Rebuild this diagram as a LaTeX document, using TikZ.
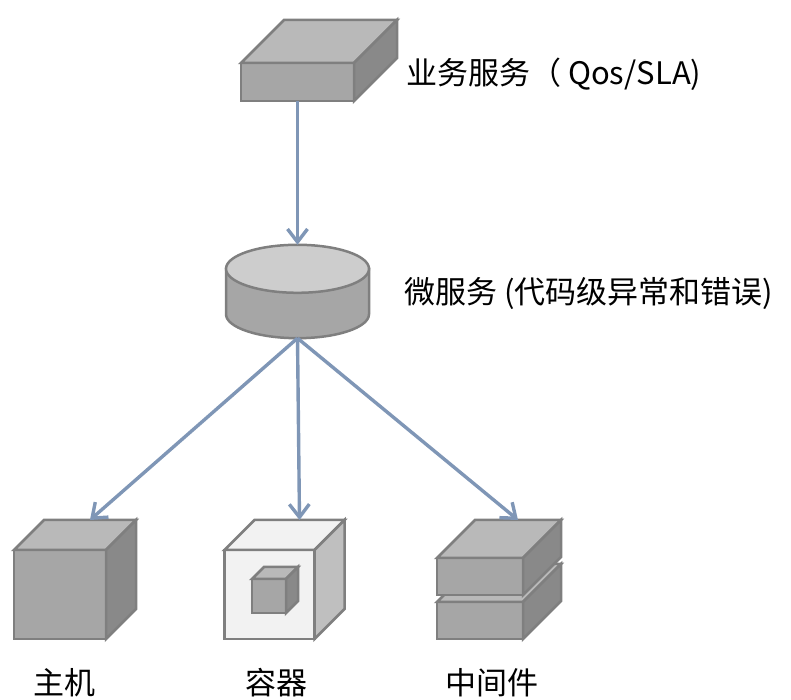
\documentclass[tikz,border=0pt]{standalone}
\usepackage{tikz}
\usetikzlibrary{arrows.meta}
\usepackage{fontspec}
\setmainfont{Noto Sans CJK SC}
\usepackage{xcolor}
\definecolor{edgegray}{RGB}{127,127,127}
\definecolor{frontgray}{RGB}{166,166,166}
\definecolor{topgray}{RGB}{185,185,185}
\definecolor{sidegray}{RGB}{137,137,137}
\definecolor{lightface}{RGB}{242,242,242}
\definecolor{lightside}{RGB}{191,191,191}
\definecolor{capgray}{RGB}{205,205,205}
\definecolor{linkblue}{RGB}{127,150,182}
% top and right faces of a box whose front face is the node #1
\newcommand{\boxfaces}[4]{%
	\filldraw[facestyle,fill=#3] (#1.north west) -- ++(#2,#2) -- ([shift={(#2,#2)}]#1.north east) -- (#1.north east) -- cycle;
	\filldraw[facestyle,fill=#4] (#1.north east) -- ++(#2,#2) -- ([shift={(#2,#2)}]#1.south east) -- (#1.south east) -- cycle;}

\begin{document}
\begin{tikzpicture}[x=1pt,y=1pt]
		\tikzset{facestyle/.style={draw=edgegray,line width=2.5pt},
		face/.style={facestyle,fill=frontgray,inner sep=0pt,outer sep=0pt},
		link/.style={draw=linkblue,line width=3.4pt,-{Straight Barb[length=13pt,width=20pt]}},
		caption/.style={inner sep=0pt,font=\fontsize{31}{36}\selectfont}
	}
	\useasboundingbox (0,0) rectangle (791,700);

    % business service
    \node [face,minimum width=113pt,minimum height=38pt] (service) at (297.5,618) {};
    \boxfaces{service}{43}{topgray}{sidegray}
    \node [caption,anchor=west] (servicetext) at (406,626) {业务服务（ Qos/SLA)};

    % micro service
    \node [inner sep=0pt,minimum width=143pt,minimum height=93pt] (micro) at (297.5,408.5) {};
    \coordinate (captop) at ([yshift=-24pt]micro.north);
    \coordinate (capbot) at ([yshift=24pt]micro.south);
    \filldraw [facestyle,fill=frontgray] ([xshift=-71.5pt]captop) -- ([xshift=-71.5pt]capbot)
    	arc [start angle=180,end angle=360,x radius=71.5pt,y radius=24pt] -- ([xshift=71.5pt]captop) -- cycle;
    \filldraw [facestyle,fill=capgray] (captop) ellipse [x radius=71.5pt,y radius=24pt];
    \node [caption,anchor=west] (microtext) at (404,406) {微服务 (代码级异常和错误)};

    % host
    \node [face,minimum width=92pt,minimum height=89pt] (host) at (60,105.5) {};
    \boxfaces{host}{30}{topgray}{sidegray}
    \coordinate (hosttop) at ([shift={(30,30)}]host.north);
    \node [caption] (hosttext) at (64,17) {主机};

    % container
    \node [face,fill=lightface,minimum width=90pt,minimum height=89pt] (container) at (269.5,105.5) {};
    \boxfaces{container}{30}{lightface}{lightside}
    \node [face,minimum width=34pt,minimum height=34pt] (inner) at (269,104) {};
    \boxfaces{inner}{12}{topgray}{sidegray}
    \coordinate (containertop) at ([shift={(30,30)}]container.north);
    \node [caption] (containertext) at (276,17) {容器};

    % middleware
    \node [face,minimum width=86pt,minimum height=37pt] (midlow) at (480,79.5) {};
    \boxfaces{midlow}{38}{topgray}{sidegray}
    \node [face,minimum width=86pt,minimum height=37pt] (midup) at (480,123.5) {};
    \boxfaces{midup}{38}{topgray}{sidegray}
    \coordinate (midtop) at ([shift={(38,38)}]midup.north);
    \node [caption] (midtext) at (492,17) {中间件};

    \draw [link] (service) -- (micro.north);
    \draw [link] (micro.south) -- (hosttop);
    \draw [link] (micro.south) -- (containertop);
    \draw [link] (micro.south) -- (midtop);

\end{tikzpicture}
\end{document}
